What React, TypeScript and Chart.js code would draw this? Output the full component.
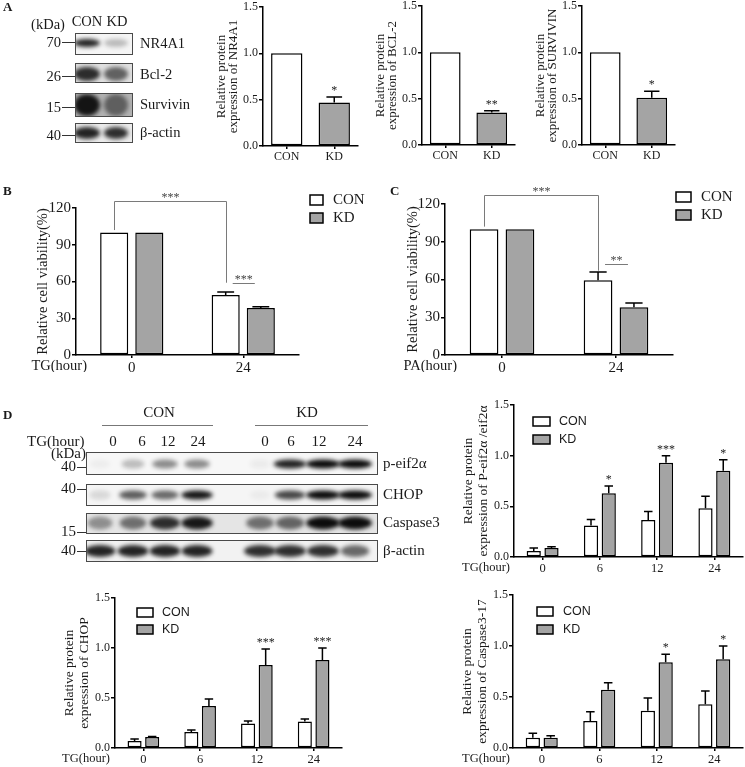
import React, { useEffect, useRef } from "react";
import { Chart, registerables } from "chart.js";

Chart.register(...registerables);

const SERIF = '"Liberation Serif", "Times New Roman", Times, serif';
const SANS = '"Liberation Sans", Arial, Helvetica, sans-serif';
const INK = "#1a1a1a";
const GREY_FILL = "#a4a4a4";
const WHITE_FILL = "#ffffff";

// ---------------- Panel A (bar charts) ----------------
const A_GROUPS = ["CON", "KD"];
const NR4A1_MEAN = [1.0, 0.47];
const NR4A1_SEM = [0, 0.06];
const NR4A1_SIG = ["", "*"];
const BCL2_MEAN = [1.0, 0.35];
const BCL2_SEM = [0, 0.02];
const BCL2_SIG = ["", "**"];
const SURVIVIN_MEAN = [1.0, 0.51];
const SURVIVIN_SEM = [0, 0.07];
const SURVIVIN_SIG = ["", "*"];

// ---------------- Panel A (blot) ----------------
const A_BLOT_ROWS = ["NR4A1", "Bcl-2", "Survivin", "β-actin"];
const A_BLOT_KDA = ["70", "26", "15", "40"];
const A_BAND_CON = [0.9, 0.85, 0.95, 0.9];
const A_BAND_KD = [0.25, 0.6, 0.5, 0.85];

// ---------------- Panel B ----------------
const B_HOURS = ["0", "24"];
const B_CON = [100, 49];
const B_CON_SEM = [0, 2.4];
const B_KD = [100, 38.4];
const B_KD_SEM = [0, 0.9];
const B_BRACKET = [126, 102, 59]; // top, left end, right end
const B_PAIR = 59;
const B_SIG = ["***", "***"];

// ---------------- Panel C ----------------
const C_HOURS = ["0", "24"];
const C_CON = [100, 59.5];
const C_CON_SEM = [0, 6.5];
const C_KD = [100, 38];
const C_KD_SEM = [0, 3.3];
const C_BRACKET = [127, 102, 67];
const C_PAIR = 72;
const C_SIG = ["***", "**"];

// ---------------- Panel D (blot) ----------------
const D_BLOT_ROWS = ["p-eif2α", "CHOP", "Caspase3", "β-actin"];
const D_BLOT_KDA = ["40", "40", "15", "40"];
const D_LANE_LABELS = ["0", "6", "12", "24"];
const D_BAND_CON = [
  [0.04, 0.25, 0.45, 0.45],
  [0.12, 0.65, 0.6, 0.95],
  [0.4, 0.55, 0.85, 0.95],
  [0.9, 0.9, 0.9, 0.9],
];
const D_BAND_KD = [
  [0.05, 0.9, 1, 1],
  [0.04, 0.75, 1, 1],
  [0.55, 0.6, 1, 1],
  [0.85, 0.85, 0.85, 0.6],
];

// ---------------- Panel D (bar charts) ----------------
const D_HOURS = ["0", "6", "12", "24"];
const PEIF_CON = [0.06, 0.31, 0.365, 0.48];
const PEIF_CON_SEM = [0.03, 0.06, 0.085, 0.12];
const PEIF_KD = [0.09, 0.63, 0.93, 0.85];
const PEIF_KD_SEM = [0.01, 0.07, 0.07, 0.11];
const PEIF_KD_SIG = ["", "*", "***", "*"];
const CHOP_CON = [0.07, 0.16, 0.245, 0.265];
const CHOP_CON_SEM = [0.02, 0.02, 0.025, 0.025];
const CHOP_KD = [0.11, 0.42, 0.83, 0.88];
const CHOP_KD_SEM = [0.005, 0.07, 0.16, 0.12];
const CHOP_KD_SIG = ["", "", "***", "***"];
const CASP_CON = [0.1, 0.265, 0.365, 0.43];
const CASP_CON_SEM = [0.045, 0.09, 0.125, 0.13];
const CASP_KD = [0.1, 0.57, 0.84, 0.87];
const CASP_KD_SEM = [0.02, 0.07, 0.08, 0.13];
const CASP_KD_SIG = ["", "", "*", "*"];

// ---------------------------------------------------------
function txt(ctx: any, s: string, x: number, y: number, size: number, align = "left", family = SERIF, weight = "") {
  ctx.font = `${weight ? weight + " " : ""}${size}px ${family}`;
  ctx.textAlign = align;
  ctx.textBaseline = "middle";
  ctx.fillStyle = INK;
  ctx.fillText(s, x, y);
}

function hline(ctx: any, x0: number, x1: number, y: number, color = "#333", w = 1) {
  ctx.strokeStyle = color;
  ctx.lineWidth = w;
  ctx.beginPath();
  ctx.moveTo(x0, y + 0.5);
  ctx.lineTo(x1, y + 0.5);
  ctx.stroke();
}

function blotRow(ctx: any, x0: number, x1: number, y0: number, y1: number, bg: number, bands: any[]) {
  ctx.save();
  ctx.beginPath();
  ctx.rect(x0, y0, x1 - x0, y1 - y0);
  ctx.clip();
  ctx.fillStyle = `rgba(0,0,0,${bg})`;
  ctx.fillRect(x0, y0, x1 - x0, y1 - y0);
  ctx.filter = "blur(2px)";
  bands.forEach((b) => {
    if (b.a <= 0) return;
    ctx.fillStyle = `rgba(12,12,12,${b.a})`;
    ctx.beginPath();
    ctx.ellipse(b.x, b.y, b.rx, b.ry, 0, 0, Math.PI * 2);
    ctx.fill();
  });
  ctx.restore();
  ctx.strokeStyle = "#4a4a4a";
  ctx.lineWidth = 1;
  ctx.strokeRect(x0 + 0.5, y0 + 0.5, x1 - x0 - 1, y1 - y0 - 1);
}

function drawBackground(ctx: any) {
  ctx.fillStyle = "#fff";
  ctx.fillRect(0, 0, 745, 767);
  // panel letters
  txt(ctx, "A", 3, 8, 13, "left", SERIF, "bold");
  txt(ctx, "B", 3, 192, 13, "left", SERIF, "bold");
  txt(ctx, "C", 390, 192, 13, "left", SERIF, "bold");
  txt(ctx, "D", 3, 416, 13, "left", SERIF, "bold");

  // ---- Blot A ----
  txt(ctx, "(kDa)", 48, 25, 14.5, "center");
  txt(ctx, "CON", 87, 22, 14.5, "center");
  txt(ctx, "KD", 117, 22, 14.5, "center");
  const aRows = [
    { y0: 33, y1: 55, bg: 0.04, ry: 4, cy: 43, ly: 44, my: 42 },
    { y0: 63, y1: 83, bg: 0.12, ry: 7, cy: 74, ly: 75, my: 76 },
    { y0: 93, y1: 117, bg: 0.3, ry: 11, cy: 105, ly: 105, my: 107 },
    { y0: 123, y1: 143, bg: 0.08, ry: 6, cy: 133, ly: 133, my: 135 },
  ];
  const aLanes = [87, 116];
  A_BLOT_ROWS.forEach((name, r) => {
    const row = aRows[r];
    blotRow(ctx, 75, 133, row.y0, row.y1, row.bg, [
      { x: aLanes[0], y: row.cy, rx: 13, ry: row.ry, a: A_BAND_CON[r] },
      { x: aLanes[1], y: row.cy, rx: 12, ry: row.ry, a: A_BAND_KD[r] },
    ]);
    txt(ctx, name, 140, row.ly, 14.5);
    txt(ctx, A_BLOT_KDA[r], 61, row.my + 1, 14.5, "right");
    hline(ctx, 62, 75, row.my);
  });

  // ---- Blot D ----
  txt(ctx, "CON", 159, 413, 15, "center");
  txt(ctx, "KD", 307, 413, 15, "center");
  hline(ctx, 102, 213, 425, "#777");
  hline(ctx, 255, 368, 425, "#777");
  txt(ctx, "TG(hour)", 27, 442, 15);
  const labelX = [113, 142, 168, 198, 265, 291, 319, 355];
  labelX.forEach((x, i) => txt(ctx, D_LANE_LABELS[i % 4], x, 442, 15, "center"));
  txt(ctx, "(kDa)", 86, 454, 15, "right");
  const lanesCon = [100, 133, 165, 197];
  const lanesKd = [260, 290, 323, 355];
  const dRows = [
    { y0: 452, y1: 475, bg: 0.03, ry: 4.5, cy: 464, my: 467 },
    { y0: 484, y1: 506, bg: 0.04, ry: 4.5, cy: 495, my: 489 },
    { y0: 513, y1: 534, bg: 0.1, ry: 6.5, cy: 523, my: 532 },
    { y0: 540, y1: 562, bg: 0.05, ry: 6, cy: 551, my: 551 },
  ];
  D_BLOT_ROWS.forEach((name, r) => {
    const row = dRows[r];
    const bands: any[] = [];
    lanesCon.forEach((x, k) => bands.push({ x, y: row.cy, rx: 10 + 6 * D_BAND_CON[r][k], ry: row.ry, a: D_BAND_CON[r][k] }));
    lanesKd.forEach((x, k) => bands.push({ x, y: row.cy, rx: 10 + 7 * D_BAND_KD[r][k], ry: row.ry, a: D_BAND_KD[r][k] }));
    blotRow(ctx, 86, 378, row.y0, row.y1, row.bg, bands);
    txt(ctx, name, 383, row.cy, 15);
    txt(ctx, D_BLOT_KDA[r], 76, row.my, 15, "right");
    hline(ctx, 77, 86, row.my);
  });
}

function Background() {
  const ref = useRef<HTMLCanvasElement>(null);
  useEffect(() => {
    const ctx = ref.current!.getContext("2d")!;
    drawBackground(ctx);
  }, []);
  return <canvas ref={ref} width={745} height={767} style={{ position: "absolute", left: 0, top: 0 }} />;
}

// ---------------------------------------------------------
function BarPanel(p: any) {
  const ref = useRef<HTMLCanvasElement>(null);
  useEffect(() => {
    const [cl, ct, cw, ch] = p.box;
    const [al, at, ar, ab] = p.plot;
    const yW = al - cl;
    const xH = ct + ch - ab;
    const padT = at - ct;
    const padR = cl + cw - ar;

    const annotate = {
      id: "annotate",
      afterDatasetsDraw(chart: any) {
        const ctx = chart.ctx;
        const ys = chart.scales.y;
        const area = chart.chartArea;
        ctx.save();
        // error bars + stars
        p.series.forEach((s: any, i: number) => {
          const meta = chart.getDatasetMeta(i);
          meta.data.forEach((el: any, j: number) => {
            const v = s.values[j];
            const e = s.sem[j] || 0;
            let top = el.y;
            if (e > 0) {
              const ey = ys.getPixelForValue(v + e);
              const half = (el.width * p.capRatio) / 2;
              ctx.strokeStyle = "#000";
              ctx.lineWidth = 1.5;
              ctx.beginPath();
              ctx.moveTo(el.x, el.y);
              ctx.lineTo(el.x, ey);
              ctx.moveTo(el.x - half, ey);
              ctx.lineTo(el.x + half, ey);
              ctx.stroke();
              top = ey;
            }
            const t = s.sig && s.sig[j];
            if (t) {
              ctx.font = `${p.starSize}px ${SERIF}`;
              ctx.fillStyle = "#222";
              ctx.textAlign = "center";
              ctx.textBaseline = "alphabetic";
              ctx.fillText(t, el.x, top - 3);
            }
          });
        });
        // brackets
        if (p.sig) {
          const con = chart.getDatasetMeta(0).data;
          const kd = chart.getDatasetMeta(1).data;
          const yT = Math.round(ys.getPixelForValue(p.sig.top)) + 0.5;
          const yL = ys.getPixelForValue(p.sig.leftEnd);
          const yR = ys.getPixelForValue(p.sig.rightEnd);
          const x0 = Math.round(con[0].x) + 0.5;
          const x1 = Math.round(con[1].x) + 0.5;
          ctx.strokeStyle = "#7a7a7a";
          ctx.lineWidth = 1;
          ctx.beginPath();
          ctx.moveTo(x0, yL);
          ctx.lineTo(x0, yT);
          ctx.lineTo(x1, yT);
          ctx.lineTo(x1, yR);
          ctx.stroke();
          ctx.font = `${p.starSize}px ${SERIF}`;
          ctx.fillStyle = "#444";
          ctx.textAlign = "center";
          ctx.textBaseline = "alphabetic";
          ctx.fillText(p.sig.texts[0], (x0 + x1) / 2, yT - 1);
          const yP = Math.round(ys.getPixelForValue(p.sig.pair)) + 0.5;
          const px0 = con[1].x + 7;
          const px1 = kd[1].x - 6;
          ctx.beginPath();
          ctx.moveTo(px0, yP);
          ctx.lineTo(px1, yP);
          ctx.stroke();
          ctx.fillText(p.sig.texts[1], (px0 + px1) / 2, yP - 1);
        }
        // legend
        if (p.legend) {
          const L = p.legend;
          p.series.forEach((s: any, i: number) => {
            const x = L.x - cl;
            const y = L.y - ct + i * L.gap;
            ctx.fillStyle = s.fill;
            ctx.fillRect(x, y, L.w, L.h);
            ctx.strokeStyle = "#000";
            ctx.lineWidth = 1.5;
            ctx.strokeRect(x, y, L.w, L.h);
            ctx.font = `${L.size}px ${L.family}`;
            ctx.fillStyle = INK;
            ctx.textAlign = "left";
            ctx.textBaseline = "middle";
            ctx.fillText(s.label, x + L.w + L.textGap, y + L.h / 2 + 0.5);
          });
        }
        // y title
        const cy = (area.top + area.bottom) / 2;
        ctx.font = `${p.yTitleSize}px ${SERIF}`;
        ctx.fillStyle = INK;
        ctx.textAlign = "center";
        ctx.textBaseline = "middle";
        p.yTitle.forEach((line: string, k: number) => {
          ctx.save();
          ctx.translate(area.left + p.yTitleX[k], cy);
          ctx.rotate(-Math.PI / 2);
          ctx.fillText(line, 0, 0);
          ctx.restore();
        });
        // x title
        if (p.xTitle) {
          ctx.font = `${p.xTitleSize}px ${SERIF}`;
          ctx.textAlign = "right";
          ctx.textBaseline = "top";
          ctx.fillText(p.xTitle, p.xTitleRight - cl, area.bottom + 4);
        }
        ctx.restore();
      },
    };

    const chart = new Chart(ref.current!, {
      type: "bar",
      data: {
        labels: p.categories,
        datasets: p.series.map((s: any) => ({
          label: s.label,
          data: s.values,
          backgroundColor: s.fill,
          borderColor: "#000",
          borderWidth: 1.5,
          borderSkipped: false,
          categoryPercentage: p.catPct,
          barPercentage: p.barPct,
        })),
      },
      options: {
        responsive: false,
        animation: false,
        devicePixelRatio: 1,
        layout: { padding: { top: padT, right: padR, left: 0, bottom: 0 } },
        plugins: { legend: { display: false }, tooltip: { enabled: false }, title: { display: false } },
        scales: {
          x: {
            type: "category",
            offset: true,
            grid: { display: true, drawOnChartArea: false, drawTicks: true, tickLength: 3, offset: false, color: "#000", lineWidth: 1.5 },
            border: { display: true, color: "#000", width: 1.5 },
            ticks: { color: INK, font: { family: SERIF, size: p.xTickSize }, padding: 1, maxRotation: 0, autoSkip: false },
            afterFit: (s: any) => {
              s.height = xH;
            },
          },
          y: {
            type: "linear",
            min: 0,
            max: p.yMax,
            grid: { display: true, drawOnChartArea: false, drawTicks: true, tickLength: 4, color: "#000", lineWidth: 1.5 },
            border: { display: true, color: "#000", width: 1.5 },
            ticks: {
              stepSize: p.yStep,
              color: INK,
              font: { family: SERIF, size: p.tickSize },
              padding: 1,
              callback: (v: any) => Number(v).toFixed(p.decimals),
            },
            afterFit: (s: any) => {
              s.width = yW;
            },
          },
        },
      },
      plugins: [annotate],
    } as any);
    return () => chart.destroy();
  }, []);
  const [cl, ct, cw, ch] = p.box;
  return <canvas ref={ref} width={cw} height={ch} style={{ position: "absolute", left: cl, top: ct }} />;
}

const A_COMMON = {
  categories: A_GROUPS,
  yMax: 1.5,
  yStep: 0.5,
  decimals: 1,
  catPct: 1,
  barPct: 0.66,
  capRatio: 0.5,
  tickSize: 12,
  xTickSize: 12,
  starSize: 12,
  yTitleSize: 13,
  yTitleX: [-41, -29],
};

const NR4A1_PANEL = {
  ...A_COMMON,
  box: [200, -6, 172, 176],
  plot: [263, 7, 358, 146],
  series: [{ label: "NR4A1", values: NR4A1_MEAN, sem: NR4A1_SEM, fill: [WHITE_FILL, GREY_FILL], sig: NR4A1_SIG }],
  yTitle: ["Relative protein", "expression of NR4A1"],
};
const BCL2_PANEL = {
  ...A_COMMON,
  box: [362, -6, 168, 176],
  plot: [422, 6, 515, 145],
  series: [{ label: "BCL-2", values: BCL2_MEAN, sem: BCL2_SEM, fill: [WHITE_FILL, GREY_FILL], sig: BCL2_SIG }],
  yTitle: ["Relative protein", "expression of BCL-2"],
};
const SURVIVIN_PANEL = {
  ...A_COMMON,
  box: [522, -6, 168, 176],
  plot: [582, 6, 675, 145],
  series: [{ label: "SURVIVIN", values: SURVIVIN_MEAN, sem: SURVIVIN_SEM, fill: [WHITE_FILL, GREY_FILL], sig: SURVIVIN_SIG }],
  yTitle: ["Relative protein", "expression of SURVIVIN"],
};

const BC_COMMON = {
  yMax: 120,
  yStep: 30,
  decimals: 0,
  catPct: 0.63,
  barPct: 0.8,
  capRatio: 0.6,
  tickSize: 15,
  xTickSize: 15,
  starSize: 12,
  yTitle: ["Relative cell viability(%)"],
  yTitleSize: 14.5,
  xTitleSize: 14.5,
};

const B_PANEL = {
  ...BC_COMMON,
  box: [0, 178, 375, 194],
  plot: [76, 208, 299, 355],
  categories: B_HOURS,
  series: [
    { label: "CON", values: B_CON, sem: B_CON_SEM, fill: WHITE_FILL },
    { label: "KD", values: B_KD, sem: B_KD_SEM, fill: GREY_FILL },
  ],
  yTitleX: [-33],
  xTitle: "TG(hour)",
  xTitleRight: 87,
  legend: { x: 310, y: 195, w: 13, h: 10, gap: 18, textGap: 10, size: 15, family: SERIF },
  sig: { top: B_BRACKET[0], leftEnd: B_BRACKET[1], rightEnd: B_BRACKET[2], pair: B_PAIR, texts: B_SIG },
};

const C_PANEL = {
  ...BC_COMMON,
  box: [378, 178, 367, 194],
  plot: [445, 204, 673, 355],
  categories: C_HOURS,
  series: [
    { label: "CON", values: C_CON, sem: C_CON_SEM, fill: WHITE_FILL },
    { label: "KD", values: C_KD, sem: C_KD_SEM, fill: GREY_FILL },
  ],
  yTitleX: [-32],
  xTitle: "PA(hour)",
  xTitleRight: 457,
  legend: { x: 676, y: 192, w: 15, h: 10, gap: 18, textGap: 10, size: 15, family: SERIF },
  sig: { top: C_BRACKET[0], leftEnd: C_BRACKET[1], rightEnd: C_BRACKET[2], pair: C_PAIR, texts: C_SIG },
};

const D_COMMON = {
  categories: D_HOURS,
  yMax: 1.5,
  yStep: 0.5,
  decimals: 1,
  catPct: 0.62,
  barPct: 0.8,
  capRatio: 0.6,
  tickSize: 12,
  xTickSize: 12.5,
  starSize: 12,
  yTitleSize: 13.5,
  yTitleX: [-46, -31],
  xTitle: "TG(hour)",
  xTitleSize: 12.5,
};

const PEIF_PANEL = {
  ...D_COMMON,
  box: [455, 392, 290, 183],
  plot: [514, 405, 743, 557],
  series: [
    { label: "CON", values: PEIF_CON, sem: PEIF_CON_SEM, fill: WHITE_FILL },
    { label: "KD", values: PEIF_KD, sem: PEIF_KD_SEM, fill: GREY_FILL, sig: PEIF_KD_SIG },
  ],
  yTitle: ["Relative protein", "expression of P-eif2α /eif2α"],
  xTitleRight: 510,
  legend: { x: 533, y: 417, w: 17, h: 9, gap: 18, textGap: 9, size: 12.5, family: SANS },
};

const CHOP_PANEL = {
  ...D_COMMON,
  box: [50, 585, 320, 182],
  plot: [115, 598, 342, 748],
  series: [
    { label: "CON", values: CHOP_CON, sem: CHOP_CON_SEM, fill: WHITE_FILL },
    { label: "KD", values: CHOP_KD, sem: CHOP_KD_SEM, fill: GREY_FILL, sig: CHOP_KD_SIG },
  ],
  yTitle: ["Relative protein", "expression of CHOP"],
  xTitleRight: 110,
  legend: { x: 137, y: 608, w: 16, h: 9, gap: 17, textGap: 9, size: 12.5, family: SANS },
};

const CASP_PANEL = {
  ...D_COMMON,
  box: [455, 582, 290, 185],
  plot: [513, 595, 743, 748],
  series: [
    { label: "CON", values: CASP_CON, sem: CASP_CON_SEM, fill: WHITE_FILL },
    { label: "KD", values: CASP_KD, sem: CASP_KD_SEM, fill: GREY_FILL, sig: CASP_KD_SIG },
  ],
  yTitle: ["Relative protein", "expression of Caspase3-17"],
  xTitleRight: 510,
  legend: { x: 537, y: 607, w: 16, h: 9, gap: 18, textGap: 10, size: 12.5, family: SANS },
};

export default function App() {
  useEffect(() => {
    document.body.style.margin = "0";
  }, []);
  return (
    <div style={{ position: "absolute", left: 0, top: 0, width: 745, height: 767, background: "#fff", overflow: "hidden" }}>
      <Background />
      <BarPanel {...NR4A1_PANEL} />
      <BarPanel {...BCL2_PANEL} />
      <BarPanel {...SURVIVIN_PANEL} />
      <BarPanel {...B_PANEL} />
      <BarPanel {...C_PANEL} />
      <BarPanel {...PEIF_PANEL} />
      <BarPanel {...CHOP_PANEL} />
      <BarPanel {...CASP_PANEL} />
    </div>
  );
}
